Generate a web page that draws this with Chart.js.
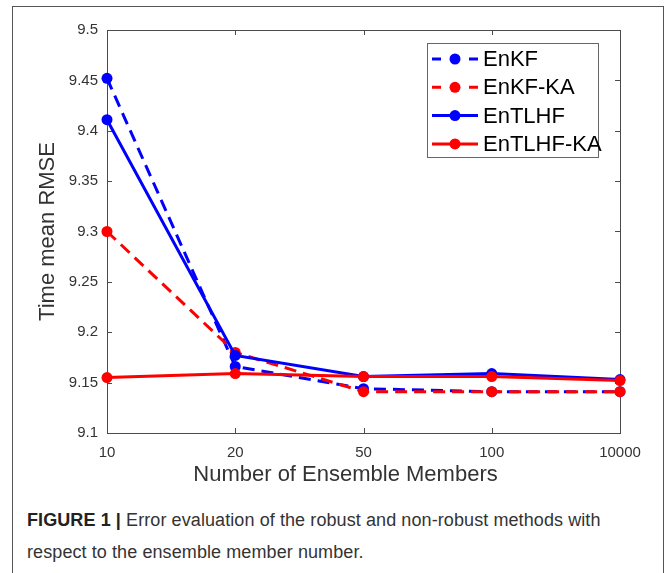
<!DOCTYPE html>
<html>
<head>
<meta charset="utf-8">
<script src="https://cdn.jsdelivr.net/npm/chart.js@4.4.0/dist/chart.umd.min.js"></script>
<style>
    html, body { margin: 0; padding: 0; background: #fff; overflow: hidden; }
    body { width: 667px; height: 573px; position: relative; font-family: "Liberation Sans", Arial, sans-serif; }
    #frame { position: absolute; left: 12px; top: 6px; width: 650px; height: 620px; border: 1px solid #555; border-bottom: none; }
    #myChart { position: absolute; left: 0; top: 0; }
    #caption { position: absolute; left: 27px; top: 504px; font-size: 18px; letter-spacing: 0.09px; line-height: 32px; color: #333; white-space: nowrap; }
    #caption b { color: #222; }
</style>
</head>
<body>
<div id="frame"></div>
<canvas id="myChart" width="667" height="490"></canvas>
<div id="caption"><b>FIGURE 1 |</b> Error evaluation of the robust and non-robust methods with<br>respect to the ensemble member number.</div>
<script>
// Data
const members = ['10', '20', '50', '100', '10000'];
const enkf = [9.452, 9.166, 9.144, 9.141, 9.141];
const enkfKA = [9.300, 9.180, 9.141, 9.141, 9.141];
const entlhf = [9.411, 9.177, 9.156, 9.159, 9.153];
const entlhfKA = [9.155, 9.159, 9.156, 9.156, 9.152];
const yTickValues = [9.1, 9.15, 9.2, 9.25, 9.3, 9.35, 9.4, 9.45, 9.5];
const yTickLabels = ['9.1', '9.15', '9.2', '9.25', '9.3', '9.35', '9.4', '9.45', '9.5'];

const BLUE = '#0000ff';
const RED = '#ff0000';
const AXIS = '#4a4a4a';
const DASH = [12, 7];

function series(label, data, color, dashed, order) {
    return {
        label: label,
        data: data,
        borderColor: color,
        backgroundColor: color,
        borderWidth: 3,
        borderDash: dashed ? DASH : [],
        pointRadius: 5.5,
        pointHoverRadius: 5.5,
        pointBorderWidth: 0,
        tension: 0,
        clip: false,
        order: order
    };
}

// Box with inward ticks, MATLAB style
const axesBox = {
    id: 'axesBox',
    beforeDatasetsDraw(chart) {
        const { ctx, chartArea: a, scales } = chart;
        ctx.save();
        ctx.strokeStyle = AXIS;
        ctx.lineWidth = 1;
        ctx.strokeRect(a.left + 0.5, a.top + 0.5, a.right - a.left, a.bottom - a.top);
        ctx.beginPath();
        scales.x.ticks.forEach((t, i) => {
            const x = Math.round(scales.x.getPixelForTick(i)) + 0.5;
            ctx.moveTo(x, a.bottom); ctx.lineTo(x, a.bottom - 5);
            ctx.moveTo(x, a.top); ctx.lineTo(x, a.top + 5);
        });
        scales.y.ticks.forEach(t => {
            const y = Math.round(scales.y.getPixelForValue(t.value)) + 0.5;
            ctx.moveTo(a.left, y); ctx.lineTo(a.left + 5, y);
            ctx.moveTo(a.right, y); ctx.lineTo(a.right - 5, y);
        });
        ctx.stroke();
        // x axis title, placed like the original
        ctx.fillStyle = '#333';
        ctx.font = '22px "Liberation Sans", Arial, sans-serif';
        ctx.textAlign = 'center';
        ctx.textBaseline = 'middle';
        ctx.fillText('Number of Ensemble Members', (a.left + a.right) / 2 - 18, a.bottom + 42);
        ctx.restore();
    }
};

// Legend inside the axes, top right
const boxLegend = {
    id: 'boxLegend',
    afterDatasetsDraw(chart) {
        const { ctx, chartArea: a } = chart;
        const left = a.right - 193, top = a.top + 13, w = 171, h = 114;
        ctx.save();
        ctx.fillStyle = '#fff';
        ctx.fillRect(left, top, w, h);
        ctx.strokeStyle = '#666';
        ctx.lineWidth = 1;
        ctx.strokeRect(left + 0.5, top + 0.5, w, h);
        ctx.font = '22px "Liberation Sans", Arial, sans-serif';
        ctx.textBaseline = 'middle';
        chart.data.datasets.forEach((ds, i) => {
            const y = top + 16 + i * 28.3;
            ctx.strokeStyle = ds.borderColor;
            ctx.lineWidth = 3;
            ctx.beginPath();
            if (ds.borderDash.length) {
                ctx.moveTo(left + 5, y); ctx.lineTo(left + 14, y);
                ctx.moveTo(left + 42, y); ctx.lineTo(left + 51, y);
            } else {
                ctx.moveTo(left + 5, y); ctx.lineTo(left + 51, y);
            }
            ctx.stroke();
            ctx.fillStyle = ds.borderColor;
            ctx.beginPath();
            ctx.arc(left + 28, y, 5.5, 0, Math.PI * 2);
            ctx.fill();
            ctx.fillStyle = '#000';
            ctx.fillText(ds.label, left + 56, y + 1);
        });
        ctx.restore();
    }
};

const ctx = document.getElementById('myChart').getContext('2d');
new Chart(ctx, {
    type: 'line',
    data: {
        labels: members,
        datasets: [
            series('EnKF', enkf, BLUE, true, 4),
            series('EnKF-KA', enkfKA, RED, true, 3),
            series('EnTLHF', entlhf, BLUE, false, 2),
            series('EnTLHF-KA', entlhfKA, RED, false, 1)
        ]
    },
    options: {
        responsive: false,
        animation: false,
        devicePixelRatio: 1,
        layout: { padding: { left: 0, right: 47, top: 30, bottom: 0 } },
        plugins: {
            legend: { display: false },
            tooltip: { enabled: false }
        },
        scales: {
            x: {
                type: 'category',
                offset: false,
                grid: { display: false, drawTicks: false },
                border: { display: false },
                ticks: {
                    color: '#333',
                    padding: 11,
                    maxRotation: 0,
                    font: { family: '"Liberation Sans", Arial, sans-serif', size: 15 }
                },
                afterFit(scale) { scale.height = 57; }
            },
            y: {
                min: 9.1,
                max: 9.5,
                grid: { display: false, drawTicks: false },
                border: { display: false },
                afterBuildTicks(scale) {
                    scale.ticks = yTickValues.map(v => ({ value: v }));
                },
                ticks: {
                    color: '#333',
                    padding: 9,
                    font: { family: '"Liberation Sans", Arial, sans-serif', size: 15 },
                    callback: (v, i) => yTickLabels[i]
                },
                title: {
                    display: true,
                    text: 'Time mean RMSE',
                    color: '#333',
                    padding: { top: 35, bottom: 0 },
                    font: { family: '"Liberation Sans", Arial, sans-serif', size: 22 }
                },
                afterFit(scale) { scale.width = 107; }
            }
        }
    },
    plugins: [axesBox, boxLegend]
});
</script>
</body>
</html>
